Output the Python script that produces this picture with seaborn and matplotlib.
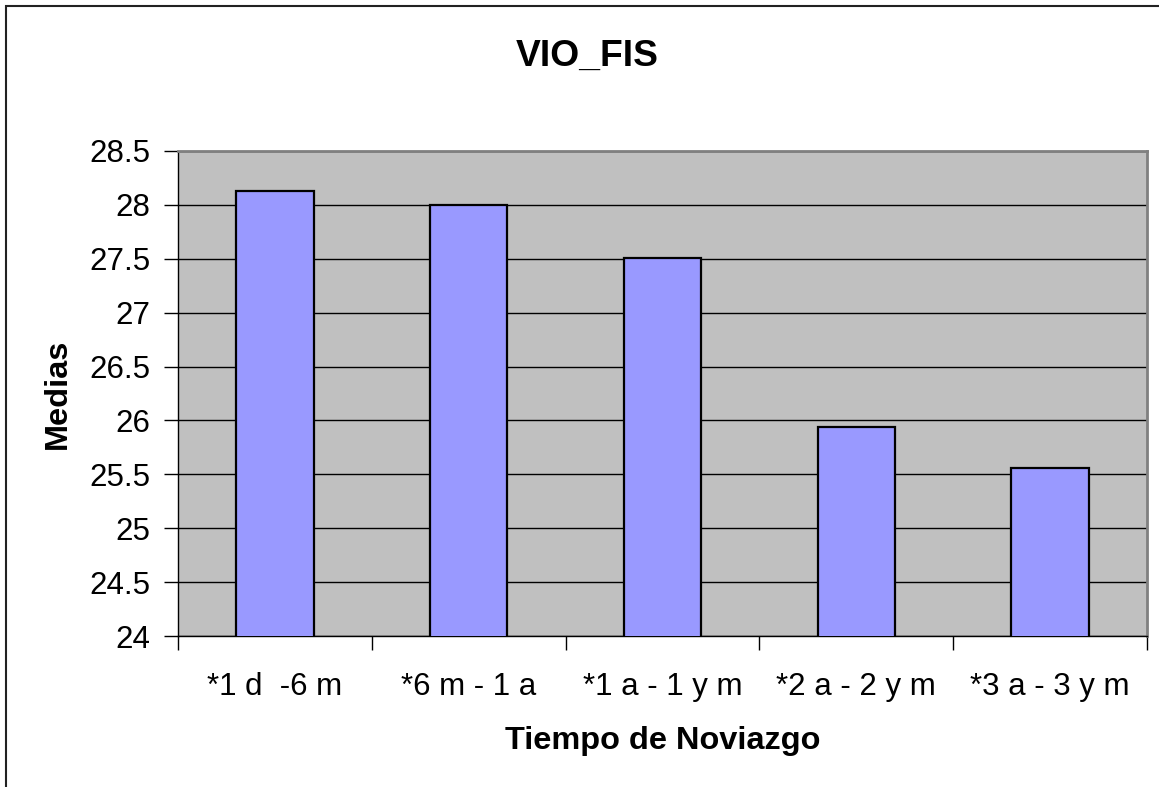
import matplotlib
matplotlib.use("Agg")
import matplotlib.pyplot as plt
from matplotlib.patches import Rectangle
from matplotlib.ticker import FixedLocator
import seaborn as sns
import pandas as pd

categories = ["*1 d  -6 m", "*6 m - 1 a", "*1 a - 1 y m", "*2 a - 2 y m", "*3 a - 3 y m"]
medias = [28.13, 28.0, 27.51, 25.94, 25.56]
y_ticks = [24, 24.5, 25, 25.5, 26, 26.5, 27, 27.5, 28, 28.5]
y_tick_labels = ["24", "24.5", "25", "25.5", "26", "26.5", "27", "27.5", "28", "28.5"]
title = "VIO_FIS"
x_label = "Tiempo de Noviazgo"
y_label = "Medias"

sns.set_style("white")
plt.rcParams["font.family"] = ["Liberation Sans", "DejaVu Sans"]
plt.rcParams["text.color"] = "black"
plt.rcParams["axes.labelcolor"] = "black"
plt.rcParams["xtick.color"] = "black"
plt.rcParams["ytick.color"] = "black"
plt.rcParams["xtick.labelcolor"] = "black"
plt.rcParams["ytick.labelcolor"] = "black"

W, H = 1159, 787
fig = plt.figure(figsize=(W / 100, H / 100), dpi=100)
fig.patch.set_facecolor("white")

left, right, top, bottom = 178, 1147, 151, 636
ax = fig.add_axes([left / W, 1 - bottom / H, (right - left) / W, (bottom - top) / H])
ax.set_facecolor("#C0C0C0")

df = pd.DataFrame({"cat": categories, "val": medias})
sns.barplot(data=df, x="cat", y="val", color="#9999FF", saturation=1,
            edgecolor="black", linewidth=1.6, width=0.4, ax=ax, zorder=3)

ax.set_ylim(24, 28.5)
ax.set_xlim(-0.5, len(categories) - 0.5)
ax.set_yticks(y_ticks)
ax.set_yticklabels(y_tick_labels)
ax.yaxis.grid(True, color="black", linewidth=1.0, zorder=1)
ax.set_axisbelow(True)

# x ticks: labels at centres, tick marks at category boundaries
ax.xaxis.set_minor_locator(FixedLocator([i - 0.5 for i in range(len(categories) + 1)]))
ax.tick_params(axis="x", which="major", length=0, pad=26, labelsize=22.5, labelcolor="black")
ax.tick_params(axis="x", which="minor", length=10, width=1, color="black", direction="out", bottom=True)
ax.tick_params(axis="y", which="major", length=10, width=1, color="black", direction="out", left=True,
               pad=10, labelsize=22.5, labelcolor="black")

for s in ["left", "bottom"]:
    ax.spines[s].set_color("black")
    ax.spines[s].set_linewidth(1.0)
for s in ["top", "right"]:
    ax.spines[s].set_color("#808080")
    ax.spines[s].set_linewidth(2.0)

ax.set_xlabel(x_label, fontsize=23.4, fontweight="bold", labelpad=17, color="black")
ax.set_ylabel(y_label, fontsize=23.4, fontweight="bold", labelpad=12, color="black")

fig.text(587 / W, 1 - 56 / H, title, fontsize=26.8, fontweight="bold", ha="center", va="center",
         color="black")

fig.patches.append(Rectangle((6 / W, -0.1), 1.2, 1 - 6 / H + 0.1, transform=fig.transFigure,
                             fill=False, edgecolor="#222222", linewidth=1.5, zorder=10))

fig.savefig("out.png", dpi=100)
